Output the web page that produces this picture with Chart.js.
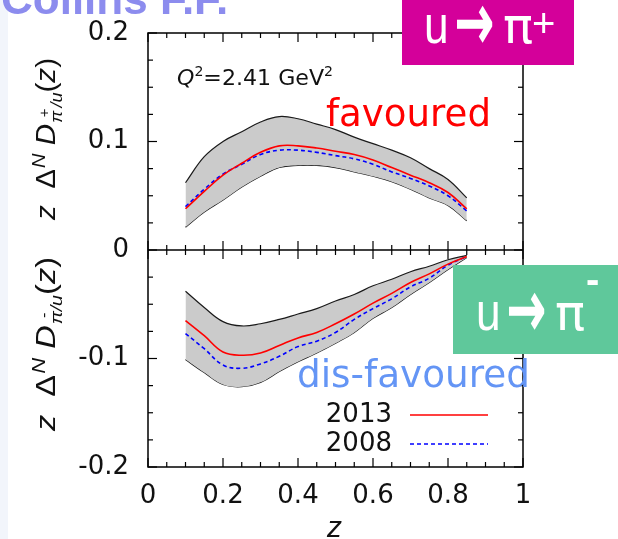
<!DOCTYPE html>
<html>
<head>
<meta charset="utf-8">
<script src="https://cdn.jsdelivr.net/npm/chart.js@4.4.1/dist/chart.umd.min.js"></script>
<style>
  html, body { margin: 0; padding: 0; background: #fff; }
  canvas { display: block; }
</style>
</head>
<body>
<canvas id="ffChart" width="618" height="539"></canvas>
<script>
// z values where the Collins functions are sampled
const zValues = [0.1, 0.15, 0.2, 0.25, 0.3, 0.35, 0.4, 0.45, 0.5, 0.55, 0.6, 0.65, 0.7, 0.75, 0.8, 0.85];

// u -> pi+ (favoured): error band edges and central curves
const favUpper = [0.062, 0.086, 0.100, 0.109, 0.118, 0.123, 0.121, 0.116, 0.111, 0.104, 0.098, 0.092, 0.085, 0.075, 0.065, 0.048];
const favLower = [0.021, 0.035, 0.046, 0.058, 0.068, 0.076, 0.078, 0.078, 0.076, 0.072, 0.068, 0.063, 0.056, 0.048, 0.041, 0.027];
const fav2013  = [0.038, 0.054, 0.069, 0.080, 0.090, 0.096, 0.096, 0.094, 0.091, 0.088, 0.083, 0.076, 0.069, 0.062, 0.053, 0.038];
const fav2008  = [0.040, 0.056, 0.070, 0.079, 0.088, 0.092, 0.092, 0.090, 0.087, 0.084, 0.079, 0.072, 0.066, 0.059, 0.050, 0.036];

// u -> pi- (dis-favoured)
const disUpper = [-0.038, -0.053, -0.066, -0.070, -0.068, -0.064, -0.059, -0.054, -0.047, -0.041, -0.033, -0.027, -0.020, -0.015, -0.009, -0.005];
const disLower = [-0.101, -0.113, -0.124, -0.126, -0.122, -0.112, -0.103, -0.095, -0.086, -0.076, -0.063, -0.053, -0.041, -0.030, -0.018, -0.007];
const dis2013  = [-0.065, -0.079, -0.094, -0.097, -0.095, -0.088, -0.081, -0.076, -0.068, -0.059, -0.049, -0.040, -0.030, -0.022, -0.013, -0.006];
const dis2008  = [-0.077, -0.091, -0.106, -0.109, -0.105, -0.098, -0.089, -0.084, -0.076, -0.064, -0.054, -0.045, -0.034, -0.026, -0.014, -0.006];

const seriesLabels = ['2013', '2008'];
const xTicks = [0, 0.2, 0.4, 0.6, 0.8, 1];
const yTicks = [-0.2, -0.1, 0, 0.1, 0.2];

const toPoints = vals => zValues.map((z, i) => ({ x: z, y: vals[i] }));

const bandFill = '#cbcbcb';
const edgeColor = '#1a1a1a';

function bandEdge(vals, fill) {
  return {
    data: toPoints(vals),
    borderColor: edgeColor,
    borderWidth: 1.2,
    backgroundColor: bandFill,
    fill: fill,
    pointRadius: 0,
    tension: 0.4
  };
}

function curve(label, vals, color, dash) {
  return {
    label: label,
    data: toPoints(vals),
    borderColor: color,
    borderWidth: 1.6,
    borderDash: dash,
    fill: false,
    pointRadius: 0,
    tension: 0.4
  };
}

// draws a run of text pieces along one baseline, optionally stretched to a given length
function drawRun(ctx, parts, x, y, color, length) {
  ctx.save();
  ctx.fillStyle = color;
  ctx.textBaseline = 'alphabetic';
  ctx.textAlign = 'left';
  let total = 0;
  parts.forEach(p => { ctx.font = p.font; total += (p.dx || 0) + ctx.measureText(p.t).width; });
  ctx.translate(x, y);
  if (length) ctx.scale(length / total, 1);
  let cx = 0;
  parts.forEach(p => {
    ctx.font = p.font;
    cx += p.dx || 0;
    ctx.fillText(p.t, cx, p.dy || 0);
    cx += ctx.measureText(p.t).width;
  });
  ctx.restore();
}

function yTitle(sign) {
  const big = 'italic 28px "Liberation Sans"';
  const up = '28px "Liberation Sans"';
  const sub = 'italic 17px "Liberation Sans"';
  return [
    { t: 'z', font: big },
    { t: '  ', font: up },
    { t: 'Δ', font: up },
    { t: 'N', font: 'italic 19px "Liberation Sans"', dy: -10, dx: 1 },
    { t: ' ', font: big },
    { t: 'D', font: big },
    { t: 'π', font: sub, dy: 7, dx: 1 },
    { t: sign, font: '14px "Liberation Sans"', dy: -6, dx: -6 },
    { t: '/u', font: sub, dy: 7, dx: 1 },
    { t: '(', font: up },
    { t: 'z', font: big },
    { t: ')', font: up }
  ];
}

// page background with the pale strip on the left
const background = {
  id: 'background',
  beforeDraw(chart) {
    const ctx = chart.ctx;
    ctx.save();
    ctx.fillStyle = '#ffffff';
    ctx.fillRect(0, 0, chart.width, chart.height);
    ctx.fillStyle = '#f2f5fb';
    ctx.fillRect(0, 0, 8, chart.height);
    ctx.restore();
  }
};

// frame, zero line and inward ticks on all sides
const frameTicks = {
  id: 'frameTicks',
  afterDatasetsDraw(chart) {
    const { ctx, chartArea: a, scales: { x, y } } = chart;
    const seg = (x1, y1, x2, y2) => { ctx.beginPath(); ctx.moveTo(x1, y1); ctx.lineTo(x2, y2); ctx.stroke(); };
    ctx.save();
    ctx.strokeStyle = '#000';
    ctx.lineWidth = 1.5;
    ctx.strokeRect(a.left, a.top, a.right - a.left, a.bottom - a.top);
    const y0 = y.getPixelForValue(0);
    seg(a.left, y0, a.right, y0);
    ctx.lineWidth = 1.2;
    for (let i = -8; i <= 8; i++) {
      const py = y.getPixelForValue(i * 0.025);
      const len = i % 4 === 0 ? 9 : 5;
      seg(a.left, py, a.left + len, py);
      seg(a.right, py, a.right - len, py);
    }
    for (let i = 0; i <= 20; i++) {
      const px = x.getPixelForValue(i * 0.05);
      const len = i % 4 === 0 ? 9 : 5;
      seg(px, a.top, px, a.top + len);
      seg(px, a.bottom, px, a.bottom - len);
      seg(px, y0 - len, px, y0 + len);
    }
    ctx.restore();
  }
};

// white box lettering: u, arrow, pi and the charge sign
function channelText(ctx, left, base, sign, signFont, signX, signY) {
  ctx.save();
  ctx.fillStyle = '#fff';
  ctx.strokeStyle = '#fff';
  ctx.textAlign = 'left';
  ctx.textBaseline = 'alphabetic';

  ctx.save();
  ctx.translate(left, base);
  ctx.scale(0.82, 1);
  ctx.font = '54px "Liberation Sans"';
  ctx.fillText('u', 0, 0);
  ctx.restore();

  // arrow stretched vertically to the letter height
  ctx.save();
  ctx.translate(left + 31, base - 14);
  ctx.scale(1, 1.7);
  ctx.font = '46px "DejaVu Sans"';
  ctx.textBaseline = 'middle';
  ctx.lineWidth = 1.5;
  ctx.fillText('→', 0, 0);
  ctx.strokeText('→', 0, 0);
  ctx.restore();

  ctx.font = '50px "DejaVu Sans"';
  ctx.fillText('π', left + 79, base);
  ctx.font = signFont;
  ctx.fillText(sign, signX, signY);
  ctx.restore();
}

// titles, labels, legend and the two channel boxes
const annotations = {
  id: 'annotations',
  afterDraw(chart) {
    const ctx = chart.ctx;
    ctx.save();

    // slide heading, cut at the top edge
    drawRun(ctx, [{ t: 'Collins F.F.', font: 'bold 44px "Liberation Sans"' }], 1, 14, '#8c8cee');

    // axis titles
    ctx.save();
    ctx.translate(55, 220);
    ctx.rotate(-Math.PI / 2);
    drawRun(ctx, yTitle('+'), 0, 0, '#111', 162);
    ctx.restore();
    ctx.save();
    ctx.translate(55, 431);
    ctx.rotate(-Math.PI / 2);
    drawRun(ctx, yTitle('-'), 0, 0, '#111', 174);
    ctx.restore();
    drawRun(ctx, [{ t: 'z', font: 'italic 30px "Liberation Sans"' }], 327, 537, '#111');

    // scale label
    drawRun(ctx, [
      { t: 'Q', font: 'italic 22px "DejaVu Sans"' },
      { t: '2', font: '14px "DejaVu Sans"', dy: -9 },
      { t: '=2.41 GeV', font: '22px "DejaVu Sans"' },
      { t: '2', font: '14px "DejaVu Sans"', dy: -9 }
    ], 177, 85, '#111', 156);

    drawRun(ctx, [{ t: 'favoured', font: '37px "DejaVu Sans"' }], 326, 126, '#ff0000', 165);
    drawRun(ctx, [{ t: 'dis-favoured', font: '37px "DejaVu Sans"' }], 297, 387, '#6495f5', 233);

    // legend from the 2013 / 2008 curves
    const legendSets = chart.data.datasets.filter(d => d.label);
    legendSets.slice(0, 2).forEach((d, i) => {
      const ly = 415 + i * 29;
      ctx.font = '26px "DejaVu Sans"';
      ctx.fillStyle = '#111';
      ctx.textAlign = 'right';
      ctx.textBaseline = 'middle';
      ctx.fillText(d.label, 392, ly);
      ctx.strokeStyle = d.borderColor;
      ctx.lineWidth = 1.6;
      ctx.setLineDash(d.borderDash || []);
      ctx.beginPath();
      ctx.moveTo(410, ly);
      ctx.lineTo(488, ly);
      ctx.stroke();
      ctx.setLineDash([]);
    });

    // channel boxes
    ctx.fillStyle = '#d4009a';
    ctx.fillRect(402, 0, 172, 65);
    ctx.fillStyle = '#5fc89b';
    ctx.fillRect(453, 265, 165, 89);
    channelText(ctx, 424, 43, '+', '40px "Liberation Sans"', 532, 37);
    channelText(ctx, 476, 330, '-', 'bold 40px "Liberation Sans"', 586, 293);

    ctx.restore();
  }
};

new Chart(document.getElementById('ffChart'), {
  type: 'line',
  data: {
    // curves first so they end up drawn above the bands
    datasets: [
      curve(seriesLabels[0], fav2013, '#ff0000', []),
      curve(seriesLabels[1], fav2008, '#0000ff', [4, 3]),
      curve(seriesLabels[0], dis2013, '#ff0000', []),
      curve(seriesLabels[1], dis2008, '#0000ff', [4, 3]),
      bandEdge(favUpper, '+1'),
      bandEdge(favLower, false),
      bandEdge(disUpper, '+1'),
      bandEdge(disLower, false)
    ]
  },
  options: {
    responsive: false,
    animation: false,
    devicePixelRatio: 1,
    layout: { padding: { top: 33, right: 95, left: 0, bottom: 0 } },
    plugins: { legend: { display: false }, tooltip: { enabled: false } },
    scales: {
      x: {
        type: 'linear',
        min: 0,
        max: 1,
        afterFit: s => { s.height = 72; },
        afterBuildTicks: s => { s.ticks = xTicks.map(v => ({ value: v })); },
        grid: { display: false },
        border: { display: false },
        ticks: {
          padding: 6,
          color: '#111',
          font: { family: 'DejaVu Sans', size: 26 },
          callback: v => String(Math.round(v * 10) / 10),
          maxRotation: 0
        }
      },
      y: {
        type: 'linear',
        min: -0.2,
        max: 0.2,
        afterFit: s => { s.width = 148; },
        afterBuildTicks: s => { s.ticks = yTicks.map(v => ({ value: v })); },
        grid: { display: false },
        border: { display: false },
        ticks: {
          padding: 11,
          color: '#111',
          font: { family: 'DejaVu Sans', size: 26 },
          callback: v => String(Math.round(v * 10) / 10 || 0)
        }
      }
    }
  },
  plugins: [background, frameTicks, annotations]
});
</script>
</body>
</html>
